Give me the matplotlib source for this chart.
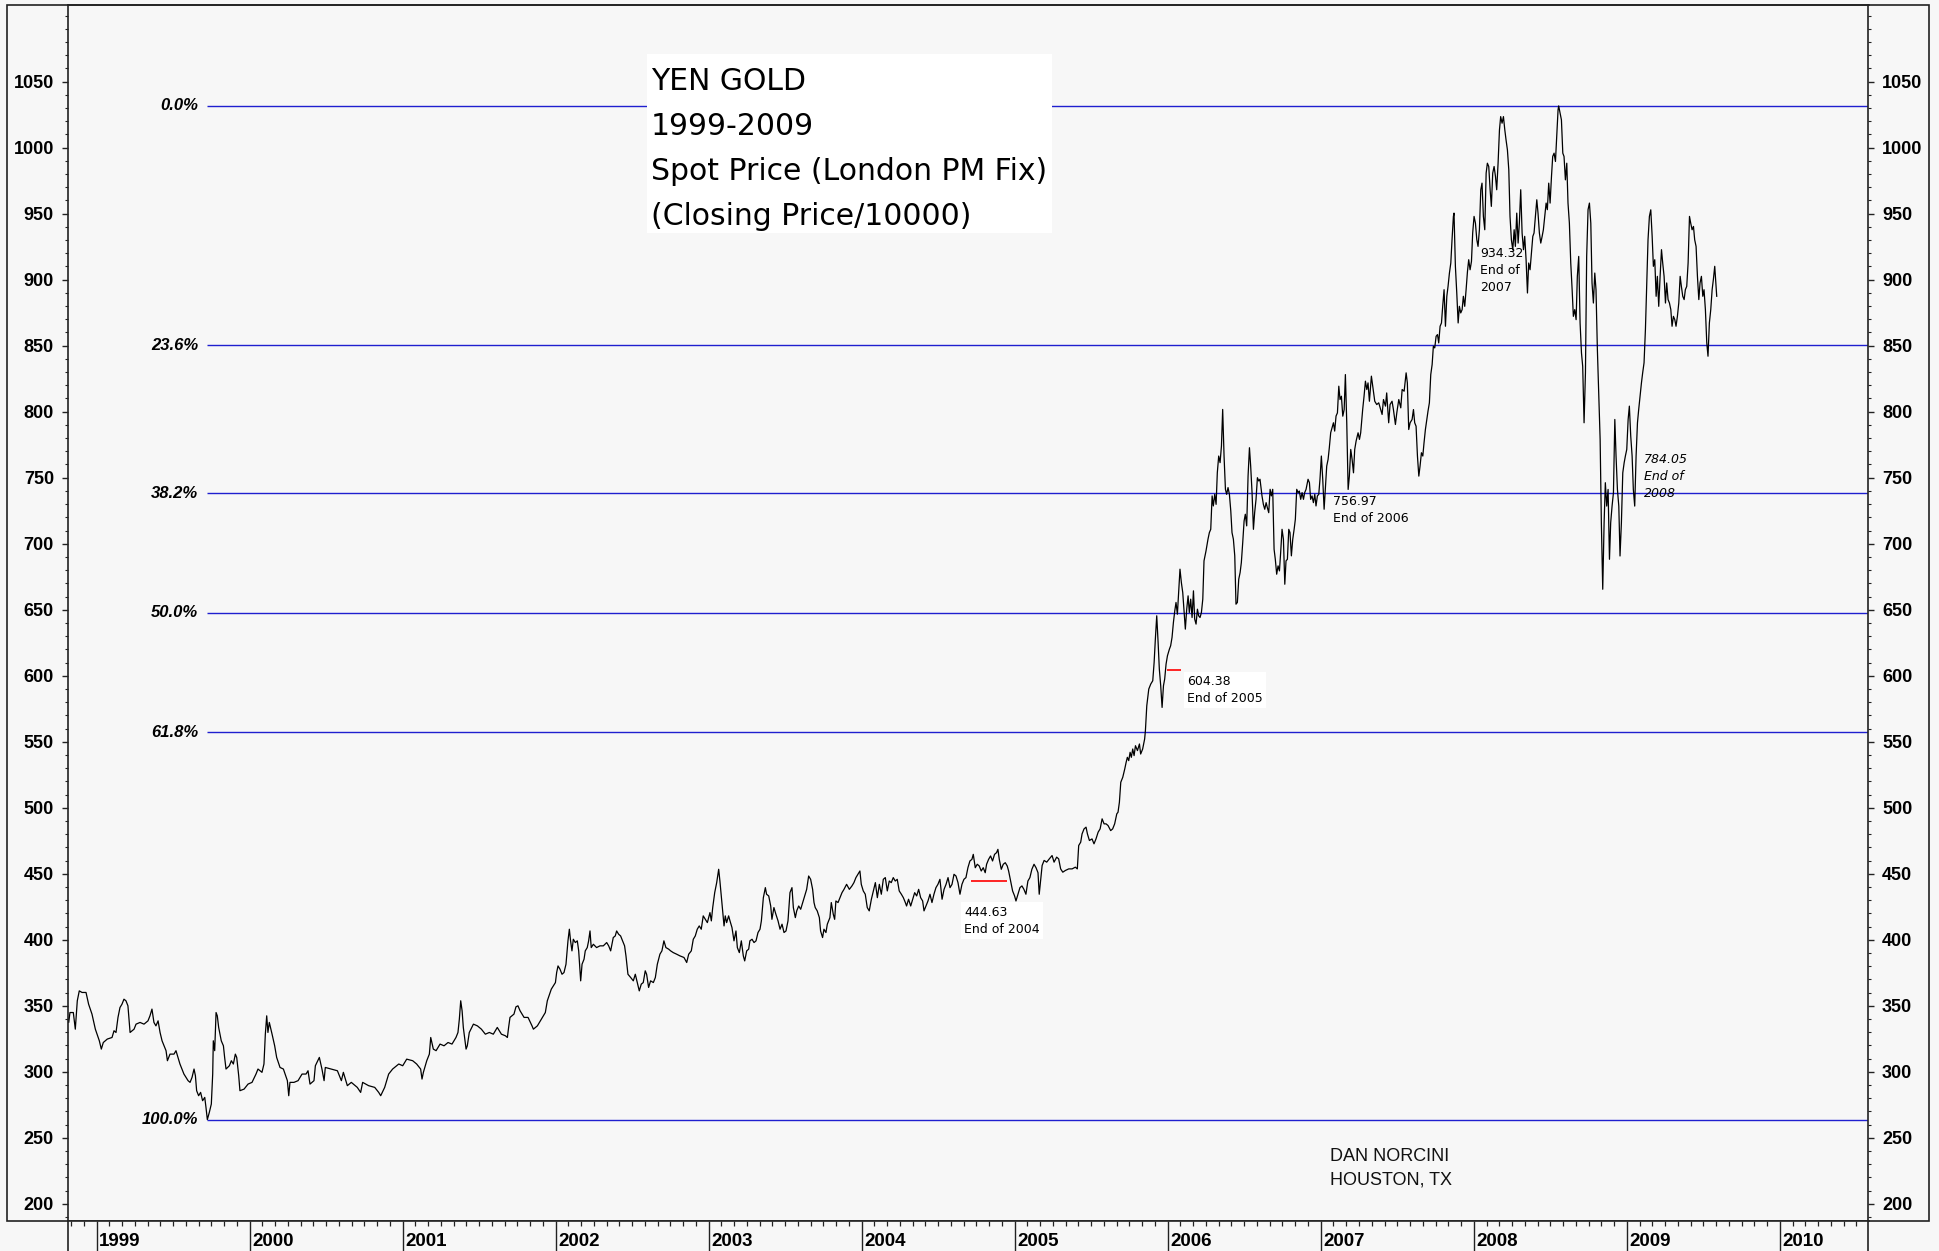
import numpy as np
import matplotlib.pyplot as plt
from matplotlib.patches import Rectangle


# yen gold, closing price / 10000 (decimal years)
years_1999_2001 = [1998.808, 1998.817, 1998.825, 1998.847, 1998.860, 1998.873, 1998.886, 1998.904, 1998.930, 1998.947,
                   1998.969, 1998.991, 1999.017, 1999.030, 1999.043, 1999.069, 1999.100, 1999.113, 1999.126, 1999.139,
                   1999.152, 1999.165, 1999.178, 1999.191, 1999.204, 1999.218, 1999.244, 1999.257, 1999.283, 1999.309,
                   1999.335, 1999.348, 1999.361, 1999.374, 1999.387, 1999.401, 1999.414, 1999.427, 1999.453, 1999.462,
                   1999.479, 1999.505, 1999.518, 1999.544, 1999.570, 1999.597, 1999.610, 1999.623, 1999.636, 1999.645,
                   1999.653, 1999.666, 1999.679, 1999.692, 1999.706, 1999.714, 1999.723, 1999.736, 1999.749, 1999.758,
                   1999.762, 1999.771, 1999.780, 1999.788, 1999.797, 1999.814, 1999.828, 1999.836, 1999.845, 1999.867,
                   1999.880, 1999.893, 1999.906, 1999.915, 1999.928, 1999.936, 1999.963, 1999.989, 2000.015, 2000.041,
                   2000.054, 2000.080, 2000.093, 2000.102, 2000.111, 2000.119, 2000.128, 2000.146, 2000.163, 2000.176,
                   2000.198, 2000.220, 2000.246, 2000.255, 2000.263, 2000.289, 2000.316, 2000.342, 2000.368, 2000.381,
                   2000.394, 2000.420, 2000.429, 2000.455, 2000.472, 2000.486, 2000.494, 2000.533, 2000.573, 2000.599,
                   2000.612, 2000.638, 2000.664, 2000.703, 2000.725, 2000.738, 2000.777, 2000.817, 2000.843, 2000.856,
                   2000.882, 2000.908, 2000.934, 2000.974, 2001.000, 2001.026, 2001.065, 2001.091, 2001.117, 2001.126,
                   2001.135, 2001.157, 2001.174, 2001.183, 2001.200, 2001.218, 2001.244, 2001.270, 2001.296, 2001.322,
                   2001.348, 2001.361, 2001.370, 2001.379, 2001.388, 2001.396, 2001.414, 2001.422, 2001.435, 2001.462,
                   2001.488, 2001.514, 2001.540, 2001.566, 2001.592, 2001.618, 2001.645, 2001.671, 2001.684, 2001.692,
                   2001.701, 2001.727, 2001.740, 2001.753, 2001.767, 2001.793, 2001.819, 2001.845, 2001.854, 2001.880,
                   2001.906, 2001.932, 2001.945, 2001.971, 2001.998, 2002.006, 2002.015]
prices_1999_2001 = [342.4, 337.4, 344.9, 344.9, 332.3, 353.8, 361.3, 360.1, 360.1, 351.2,
                    343.7, 332.3, 323.5, 317.2, 322.2, 324.8, 326.0, 331.1, 329.8, 341.2,
                    348.7, 351.2, 355.0, 353.8, 350.0, 329.8, 332.3, 336.1, 337.4, 336.1,
                    338.6, 342.4, 347.5, 337.4, 334.8, 338.6, 329.8, 323.5, 316.0, 308.4,
                    313.4, 313.4, 316.0, 305.9, 298.3, 293.3, 292.0, 295.8, 302.1, 297.0,
                    285.7, 281.9, 284.4, 278.1, 280.6, 273.1, 263.8, 269.3, 275.6, 298.3,
                    323.5, 316.0, 344.9, 342.4, 333.6, 323.5, 319.7, 310.9, 302.1, 304.6,
                    308.4, 305.9, 313.4, 310.9, 297.0, 285.7, 286.9, 290.7, 292.0, 298.3,
                    302.1, 299.6, 305.9, 328.5, 342.4, 329.8, 337.4, 328.5, 319.7, 310.9,
                    303.3, 302.1, 293.3, 281.9, 292.0, 292.0, 293.3, 298.3, 298.3, 300.8,
                    290.7, 293.3, 304.6, 310.9, 302.1, 293.3, 303.3, 302.1, 300.8, 293.3,
                    299.6, 289.5, 292.0, 288.2, 284.4, 292.0, 289.5, 288.2, 284.4, 281.9,
                    288.2, 298.3, 302.1, 305.9, 304.6, 309.6, 308.4, 305.9, 302.1, 294.5,
                    299.6, 308.4, 313.4, 326.0, 317.2, 316.0, 321.0, 319.7, 322.2, 321.0,
                    326.0, 329.8, 339.9, 353.8, 346.2, 333.6, 317.2, 319.7, 329.8, 336.1,
                    334.8, 332.3, 328.5, 329.8, 328.5, 333.6, 328.5, 327.3, 326.0, 333.6,
                    341.2, 343.7, 349.2, 350.0, 346.2, 341.2, 341.2, 334.8, 332.3, 334.8,
                    339.9, 344.9, 353.8, 362.6, 367.6, 375.2, 380.2]

years_2002_2005 = [2002.028, 2002.041, 2002.054, 2002.067, 2002.080, 2002.089, 2002.097, 2002.106, 2002.115, 2002.128,
                   2002.141, 2002.150, 2002.163, 2002.172, 2002.185, 2002.193, 2002.206, 2002.215, 2002.224, 2002.232,
                   2002.246, 2002.267, 2002.289, 2002.311, 2002.333, 2002.346, 2002.359, 2002.376, 2002.389, 2002.398,
                   2002.411, 2002.424, 2002.437, 2002.450, 2002.459, 2002.472, 2002.490, 2002.507, 2002.520, 2002.533,
                   2002.546, 2002.559, 2002.572, 2002.585, 2002.594, 2002.607, 2002.620, 2002.638, 2002.651, 2002.664,
                   2002.681, 2002.694, 2002.707, 2002.720, 2002.738, 2002.751, 2002.768, 2002.790, 2002.812, 2002.838,
                   2002.856, 2002.869, 2002.886, 2002.899, 2002.912, 2002.925, 2002.938, 2002.951, 2002.964, 2002.978,
                   2002.991, 2003.008, 2003.017, 2003.026, 2003.039, 2003.052, 2003.065, 2003.073, 2003.086, 2003.100,
                   2003.108, 2003.117, 2003.130, 2003.139, 2003.152, 2003.165, 2003.178, 2003.187, 2003.200, 2003.213,
                   2003.226, 2003.235, 2003.248, 2003.261, 2003.269, 2003.283, 2003.296, 2003.309, 2003.322, 2003.335,
                   2003.344, 2003.357, 2003.370, 2003.378, 2003.392, 2003.405, 2003.413, 2003.426, 2003.439, 2003.453,
                   2003.466, 2003.479, 2003.492, 2003.505, 2003.518, 2003.531, 2003.544, 2003.553, 2003.566, 2003.575,
                   2003.588, 2003.601, 2003.614, 2003.627, 2003.640, 2003.653, 2003.666, 2003.679, 2003.688, 2003.696,
                   2003.709, 2003.723, 2003.731, 2003.744, 2003.753, 2003.766, 2003.775, 2003.792, 2003.801, 2003.814,
                   2003.823, 2003.831, 2003.845, 2003.858, 2003.871, 2003.884, 2003.901, 2003.919, 2003.936, 2003.949,
                   2003.962, 2003.975, 2003.988, 2003.997, 2004.010, 2004.023, 2004.036, 2004.049, 2004.063, 2004.076,
                   2004.089, 2004.102, 2004.115, 2004.128, 2004.141, 2004.154, 2004.167, 2004.180, 2004.193, 2004.206,
                   2004.219, 2004.232, 2004.245, 2004.259, 2004.272, 2004.285, 2004.293, 2004.306, 2004.320, 2004.333,
                   2004.346, 2004.359, 2004.372, 2004.385, 2004.398, 2004.407, 2004.420, 2004.433, 2004.446, 2004.459,
                   2004.472, 2004.485, 2004.498, 2004.511, 2004.525, 2004.538, 2004.551, 2004.564, 2004.577, 2004.590,
                   2004.603, 2004.616, 2004.629, 2004.642, 2004.655, 2004.668, 2004.681, 2004.694, 2004.707, 2004.720,
                   2004.729, 2004.742, 2004.755, 2004.768, 2004.781, 2004.794, 2004.807, 2004.816, 2004.829, 2004.842,
                   2004.855, 2004.868, 2004.881, 2004.890, 2004.899, 2004.912, 2004.925, 2004.938, 2004.951, 2004.960,
                   2004.973, 2004.986, 2004.999, 2005.008, 2005.021, 2005.034, 2005.047, 2005.060, 2005.073, 2005.086,
                   2005.099, 2005.112, 2005.126, 2005.139, 2005.152, 2005.160]
prices_2002_2005 = [377.7, 373.9, 375.2, 381.5, 399.2, 408.0, 399.2, 391.6, 400.4, 397.9,
                    399.2, 391.6, 368.9, 381.5, 385.3, 391.6, 394.1, 399.2, 406.7, 394.1,
                    396.6, 394.1, 395.4, 395.4, 397.9, 395.4, 391.6, 401.7, 402.9, 406.7,
                    404.2, 402.9, 399.2, 395.4, 387.8, 373.9, 371.4, 368.9, 373.9, 367.6,
                    361.3, 366.4, 367.6, 376.5, 373.9, 363.9, 368.9, 367.6, 371.4, 381.5,
                    389.1, 391.6, 399.2, 394.1, 392.9, 391.6, 390.3, 389.1, 387.8, 386.6,
                    382.8, 389.1, 391.6, 400.4, 402.9, 408.0, 410.5, 408.0, 418.1, 415.5,
                    413.0, 420.6, 414.3, 424.4, 435.7, 443.3, 453.4, 444.5, 428.2, 410.5,
                    418.1, 413.0, 418.1, 414.3, 409.2, 399.2, 406.7, 394.1, 390.3, 399.2,
                    387.8, 384.0, 391.6, 392.9, 399.2, 400.4, 397.9, 399.2, 405.5, 408.0,
                    414.3, 431.9, 439.5, 434.5, 433.2, 425.6, 415.5, 424.4, 419.3, 414.3,
                    408.0, 411.8, 405.5, 406.7, 414.3, 435.7, 439.5, 424.4, 416.8, 421.9,
                    425.6, 423.1, 428.2, 433.2, 438.2, 448.3, 445.8, 438.2, 428.2, 424.4,
                    421.9, 416.8, 406.7, 401.7, 408.0, 405.5, 411.8, 416.8, 428.2, 419.3,
                    415.5, 429.4, 428.2, 431.9, 435.7, 438.2, 442.0, 438.2, 440.8, 443.3,
                    447.1, 449.6, 452.1, 442.0, 437.0, 434.5, 424.4, 421.9, 430.7, 437.0,
                    443.3, 431.9, 442.0, 434.5, 445.8, 447.1, 437.0, 444.5, 443.3, 447.1,
                    444.5, 445.8, 437.0, 434.5, 431.9, 428.2, 425.6, 430.7, 425.6, 430.7,
                    435.7, 433.2, 438.2, 431.9, 429.4, 421.9, 425.6, 429.4, 434.5, 428.2,
                    434.5, 439.5, 442.0, 445.8, 430.7, 438.2, 442.0, 447.1, 439.5, 442.0,
                    449.6, 448.3, 443.3, 434.5, 442.0, 445.8, 447.1, 454.6, 459.7, 460.9,
                    464.7, 454.6, 457.2, 455.9, 452.1, 454.6, 450.8, 457.2, 460.9, 463.5,
                    459.7, 464.7, 466.0, 468.5, 460.9, 453.4, 457.2, 458.4, 455.9, 452.1,
                    444.5, 437.0, 433.2, 429.4, 434.5, 439.5, 440.8, 438.2, 434.5, 444.5,
                    447.1, 453.4, 457.2, 454.6, 450.8, 434.5]

years_2005_2007 = [2005.179, 2005.192, 2005.209, 2005.226, 2005.244, 2005.257, 2005.274, 2005.287, 2005.300, 2005.314,
                   2005.331, 2005.353, 2005.375, 2005.396, 2005.409, 2005.418, 2005.431, 2005.440, 2005.453, 2005.466,
                   2005.475, 2005.488, 2005.505, 2005.518, 2005.531, 2005.545, 2005.558, 2005.571, 2005.584, 2005.597,
                   2005.610, 2005.627, 2005.640, 2005.653, 2005.667, 2005.675, 2005.684, 2005.693, 2005.706, 2005.719,
                   2005.728, 2005.736, 2005.745, 2005.754, 2005.762, 2005.771, 2005.780, 2005.789, 2005.802, 2005.815,
                   2005.823, 2005.836, 2005.849, 2005.854, 2005.863, 2005.876, 2005.889, 2005.902, 2005.911, 2005.919,
                   2005.928, 2005.937, 2005.945, 2005.954, 2005.963, 2005.972, 2005.980, 2005.989, 2005.998, 2006.011,
                   2006.019, 2006.028, 2006.037, 2006.046, 2006.054, 2006.063, 2006.072, 2006.080, 2006.089, 2006.098,
                   2006.107, 2006.115, 2006.124, 2006.133, 2006.141, 2006.150, 2006.159, 2006.168, 2006.176, 2006.185,
                   2006.194, 2006.202, 2006.211, 2006.220, 2006.229, 2006.237, 2006.250, 2006.263, 2006.272, 2006.281,
                   2006.290, 2006.298, 2006.307, 2006.316, 2006.324, 2006.333, 2006.342, 2006.351, 2006.359, 2006.368,
                   2006.377, 2006.385, 2006.394, 2006.403, 2006.412, 2006.420, 2006.429, 2006.438, 2006.446, 2006.455,
                   2006.464, 2006.473, 2006.481, 2006.490, 2006.499, 2006.507, 2006.516, 2006.525, 2006.534, 2006.542,
                   2006.551, 2006.560, 2006.568, 2006.577, 2006.586, 2006.595, 2006.603, 2006.616, 2006.625, 2006.634,
                   2006.643, 2006.651, 2006.660, 2006.669, 2006.677, 2006.686, 2006.695, 2006.703, 2006.712, 2006.721,
                   2006.730, 2006.738, 2006.747, 2006.756, 2006.765, 2006.773, 2006.782, 2006.791, 2006.799, 2006.808,
                   2006.817, 2006.826, 2006.834, 2006.843, 2006.852, 2006.860, 2006.869, 2006.878, 2006.887, 2006.895,
                   2006.904, 2006.917, 2006.926, 2006.934, 2006.943, 2006.952, 2006.961, 2006.969, 2006.978, 2006.987,
                   2006.995, 2007.004, 2007.013, 2007.022, 2007.030, 2007.039, 2007.048, 2007.056, 2007.065, 2007.074,
                   2007.083, 2007.091, 2007.100]
prices_2005_2007 = [456.3, 460.1, 458.8, 461.3, 463.8, 458.8, 462.6, 461.3, 453.7, 451.2,
                    452.5, 453.7, 453.7, 455.0, 453.7, 471.4, 473.9, 480.2, 484.0, 485.3,
                    480.2, 475.2, 476.4, 472.7, 476.4, 481.5, 484.0, 491.6, 487.8, 487.8,
                    486.5, 482.7, 484.0, 487.8, 495.4, 496.6, 504.2, 519.3, 523.1, 529.4,
                    534.4, 538.2, 535.7, 542.0, 538.2, 544.5, 539.5, 547.0, 543.3, 548.3,
                    540.7, 544.5, 552.1, 558.4, 577.3, 589.9, 593.7, 596.2, 610.1, 627.7,
                    645.4, 625.2, 605.0, 592.4, 576.0, 592.4, 597.5, 608.8, 615.1, 620.2,
                    622.7, 629.0, 640.3, 649.2, 655.5, 646.6, 664.3, 680.7, 670.6, 663.0,
                    647.9, 635.3, 650.4, 660.5, 647.9, 658.0, 644.1, 664.3, 642.9, 639.1,
                    650.4, 645.4, 644.1, 647.9, 658.0, 687.0, 694.5, 703.4, 708.4, 710.9,
                    736.2, 728.6, 737.4, 729.8, 753.8, 766.4, 761.4, 774.0, 801.7, 766.4,
                    741.2, 737.4, 742.5, 737.4, 724.8, 708.4, 703.4, 690.8, 654.2, 655.5,
                    673.1, 678.2, 685.7, 700.8, 717.2, 722.3, 713.5, 751.3, 772.7, 758.8,
                    738.7, 710.9, 723.5, 733.6, 750.0, 747.5, 748.8, 736.2, 729.8, 726.1,
                    731.1, 727.3, 723.5, 741.2, 736.2, 741.2, 695.8, 688.2, 676.9, 683.2,
                    679.4, 693.3, 710.9, 703.4, 669.3, 687.0, 688.2, 710.9, 708.4, 690.8,
                    703.4, 710.9, 718.5, 741.2, 738.7, 739.9, 733.6, 738.7, 733.6, 738.7,
                    741.2, 748.8, 746.2, 733.6, 736.2, 731.1, 737.4, 728.6, 736.2, 737.4,
                    748.8, 766.4, 748.8, 726.1, 741.2, 758.8, 763.9, 772.7, 784.1, 787.8,
                    791.6, 785.3, 796.7]

years_2007_2009 = [2007.109, 2007.118, 2007.126, 2007.135, 2007.144, 2007.153, 2007.161, 2007.170, 2007.179, 2007.187,
                   2007.196, 2007.205, 2007.214, 2007.222, 2007.231, 2007.244, 2007.253, 2007.261, 2007.274, 2007.283,
                   2007.292, 2007.301, 2007.309, 2007.318, 2007.331, 2007.340, 2007.353, 2007.366, 2007.379, 2007.392,
                   2007.401, 2007.410, 2007.423, 2007.431, 2007.444, 2007.453, 2007.466, 2007.475, 2007.488, 2007.497,
                   2007.510, 2007.523, 2007.532, 2007.545, 2007.558, 2007.566, 2007.575, 2007.584, 2007.597, 2007.606,
                   2007.614, 2007.623, 2007.632, 2007.641, 2007.649, 2007.658, 2007.667, 2007.675, 2007.684, 2007.693,
                   2007.701, 2007.710, 2007.719, 2007.728, 2007.736, 2007.745, 2007.754, 2007.763, 2007.771, 2007.780,
                   2007.789, 2007.797, 2007.806, 2007.815, 2007.824, 2007.832, 2007.841, 2007.850, 2007.858, 2007.867,
                   2007.871, 2007.880, 2007.889, 2007.898, 2007.906, 2007.915, 2007.924, 2007.932, 2007.941, 2007.950,
                   2007.959, 2007.967, 2007.976, 2007.985, 2007.993, 2008.002, 2008.011, 2008.020, 2008.028, 2008.037,
                   2008.046, 2008.054, 2008.063, 2008.072, 2008.081, 2008.089, 2008.098, 2008.107, 2008.115, 2008.124,
                   2008.133, 2008.142, 2008.150, 2008.159, 2008.168, 2008.176, 2008.185, 2008.194, 2008.203, 2008.211,
                   2008.220, 2008.229, 2008.237, 2008.246, 2008.255, 2008.264, 2008.272, 2008.281, 2008.290, 2008.298,
                   2008.307, 2008.316, 2008.325, 2008.333, 2008.342, 2008.351, 2008.359, 2008.368, 2008.377, 2008.386,
                   2008.394, 2008.403, 2008.412, 2008.420, 2008.429, 2008.438, 2008.447, 2008.455, 2008.464, 2008.473,
                   2008.481, 2008.490, 2008.499, 2008.508, 2008.516, 2008.525, 2008.534, 2008.542, 2008.551, 2008.555,
                   2008.564, 2008.573, 2008.582, 2008.590, 2008.599, 2008.608, 2008.616, 2008.625, 2008.634, 2008.643,
                   2008.651, 2008.660, 2008.669, 2008.677, 2008.686, 2008.695, 2008.704, 2008.712, 2008.721, 2008.730,
                   2008.738, 2008.747, 2008.756, 2008.765, 2008.773, 2008.782, 2008.791, 2008.799, 2008.808, 2008.817,
                   2008.826, 2008.834, 2008.843, 2008.852, 2008.860, 2008.869, 2008.878, 2008.887, 2008.895, 2008.904,
                   2008.913, 2008.922, 2008.930, 2008.939, 2008.948, 2008.956, 2008.965, 2008.974, 2008.983, 2008.991,
                   2009.000, 2009.009, 2009.017, 2009.026, 2009.035, 2009.043, 2009.052, 2009.061, 2009.070, 2009.078,
                   2009.087, 2009.096, 2009.104, 2009.113, 2009.122, 2009.131, 2009.139, 2009.148, 2009.157, 2009.166,
                   2009.174, 2009.183, 2009.192, 2009.200, 2009.209, 2009.218, 2009.227, 2009.235, 2009.244, 2009.253,
                   2009.261, 2009.270, 2009.279, 2009.288, 2009.296, 2009.305, 2009.314, 2009.322, 2009.331, 2009.340,
                   2009.349, 2009.357, 2009.366, 2009.375, 2009.383, 2009.392, 2009.401, 2009.410, 2009.418, 2009.427,
                   2009.436, 2009.444, 2009.453, 2009.462, 2009.471, 2009.479, 2009.488, 2009.497, 2009.505, 2009.514,
                   2009.523, 2009.531, 2009.540, 2009.549, 2009.558, 2009.566, 2009.575, 2009.584, 2009.588]
prices_2007_2009 = [799.1, 819.3, 809.2, 811.7, 796.6, 801.6, 828.1, 791.6, 741.1, 751.2,
                    771.4, 763.8, 753.7, 771.4, 777.7, 784.0, 779.0, 784.0, 801.6, 811.7,
                    823.1, 816.8, 821.8, 807.9, 826.9, 819.3, 807.9, 805.4, 806.7, 801.6,
                    797.9, 809.2, 804.2, 814.2, 791.6, 805.4, 807.9, 801.6, 790.3, 799.1,
                    809.2, 802.9, 816.8, 815.5, 829.4, 821.8, 786.5, 791.6, 794.1, 801.6,
                    791.6, 789.0, 766.4, 751.2, 758.8, 768.9, 766.4, 776.4, 786.5, 794.1,
                    800.4, 806.7, 828.1, 835.7, 849.5, 848.3, 857.1, 858.4, 852.1, 864.7,
                    867.2, 879.8, 892.4, 864.7, 887.4, 894.9, 905.0, 912.6, 930.2, 947.9,
                    950.4, 910.1, 889.9, 867.2, 879.8, 874.8, 877.3, 887.4, 879.8, 892.4,
                    906.3, 915.1, 907.5, 913.8, 935.3, 947.9, 942.8, 930.2, 925.2, 937.8,
                    968.1, 973.1, 947.9, 937.8, 980.7, 988.2, 985.7, 968.1, 955.5, 980.7,
                    985.7, 978.1, 968.1, 988.2, 1013.4, 1023.5, 1018.5, 1023.5, 1013.4, 1005.9,
                    998.3, 983.2, 947.9, 930.2, 922.7, 937.8, 925.2, 950.4, 927.7, 942.8,
                    968.1, 935.3, 922.7, 932.8, 915.1, 889.9, 912.6, 907.5, 920.1, 932.8,
                    935.3, 947.9, 960.5, 950.4, 935.3, 927.7, 932.8, 937.8, 947.9, 958.0,
                    953.0, 973.1, 958.0, 978.1, 993.3, 995.8, 989.5, 1008.4, 1028.6, 1031.6,
                    1026.1, 1021.0, 995.8, 993.3, 975.6, 988.2, 958.0, 942.8, 912.6, 892.4,
                    872.2, 877.3, 869.7, 902.5, 917.6, 867.2, 844.5, 834.4, 791.6, 829.4,
                    917.6, 953.0, 958.0, 942.8, 897.5, 882.3, 905.0, 892.4, 847.0, 811.7,
                    779.0, 715.9, 665.5, 715.9, 746.2, 728.5, 741.1, 688.2, 715.9, 728.5,
                    738.6, 794.1, 766.4, 741.1, 728.5, 690.7, 715.9, 753.7, 761.3, 766.4,
                    771.4, 794.1, 804.2, 781.5, 766.4, 741.1, 728.5, 766.4, 791.6, 801.6,
                    811.7, 821.8, 829.4, 837.0, 862.2, 897.5, 930.2, 947.9, 952.9, 932.8,
                    910.1, 915.1, 887.4, 902.5, 879.8, 902.5, 922.7, 912.6, 902.5, 882.3,
                    897.5, 884.9, 882.3, 877.3, 864.7, 872.2, 869.7, 864.7, 872.2, 882.3,
                    902.5, 894.9, 887.4, 884.9, 892.4, 894.9, 912.6, 947.9, 942.8, 937.8,
                    940.3, 930.2, 925.2, 902.5, 884.9, 897.5, 902.5, 887.4, 892.4, 877.3,
                    852.1, 842.0, 867.2, 877.3, 892.4, 900.0, 910.1, 894.9, 887.4]

# fibonacci retracement ratios and the year-end closes written on the chart
fib_ratios = [0.0, 0.236, 0.382, 0.5, 0.618, 1.0]
end_years = [2004, 2005, 2006, 2007, 2008]
end_values = [444.63, 604.38, 756.97, 934.32, 784.05]
axis_years = list(range(1999, 2011))

title_lines = ["YEN GOLD", "1999-2009", "Spot Price (London PM Fix)", "(Closing Price/10000)"]

BG = '#f7f7f7'
FIB_BLUE = '#1f1fcf'
AXIS_COL = '#222222'
TICK_FONT = 'Liberation Sans'
NOTE_FONT = 'DejaVu Sans'

W_PX, H_PX = 1940, 1251
X_MIN, X_MAX = 1998.809, 2010.580
Y_MIN, Y_MAX = 187.0, 1107.8

years = np.concatenate([years_1999_2001, years_2002_2005, years_2005_2007, years_2007_2009])
prices = np.concatenate([prices_1999_2001, prices_2002_2005, prices_2005_2007, prices_2007_2009])

fig = plt.figure(figsize=(W_PX / 100, H_PX / 100), dpi=100)
fig.patch.set_facecolor(BG)

# plot area in pixels: x 67.5..1868.5, y 5.3..1221
left, right, top, bottom = 67.5 / W_PX, 1868.5 / W_PX, 1 - 5.3 / H_PX, 1 - 1221 / H_PX
ax = fig.add_axes([left, bottom, right - left, top - bottom])
ax.set_facecolor(BG)
ax.set_xlim(X_MIN, X_MAX)
ax.set_ylim(Y_MIN, Y_MAX)

ax.plot(years, prices, color='black', lw=0.9, zorder=2)

# fibonacci retracement from the 1999 low to the 2008 high
lo_i, hi_i = np.argmin(prices), np.argmax(prices)
lo, hi = prices[lo_i], prices[hi_i]
fib_start = years[lo_i]
for r in fib_ratios:
    level = hi - r * (hi - lo)
    ax.hlines(level, fib_start, X_MAX, color=FIB_BLUE, lw=1.0, zorder=1)
    ax.text(fib_start - 0.06, level, f"{r * 100:.1f}%", ha='right', va='center',
            fontsize=12, fontstyle='italic', fontweight='bold', family=TICK_FONT)

# y axes on both sides
ax.set_yticks(np.arange(200, 1051, 50))
ax.set_yticks(np.arange(190, 1101, 10), minor=True)
ax.tick_params(axis='y', which='major', direction='out', length=4.3, width=1, pad=5.5,
               left=True, right=True, labelleft=True, labelright=True, labelsize=13, colors=AXIS_COL)
ax.tick_params(axis='y', which='minor', direction='out', length=2.2, width=0.8, left=True, right=True,
               colors=AXIS_COL)
for lab in ax.get_yticklabels():
    lab.set_fontweight('bold')
    lab.set_family(TICK_FONT)
    lab.set_color('black')
ax.set_xticks([])
for sp in ax.spines.values():
    sp.set_color(AXIS_COL)
    sp.set_linewidth(1.2)

# title box
box_x0, box_y0 = 646.7 / W_PX, 1 - 232.7 / H_PX
ax.add_patch(Rectangle((box_x0, box_y0), 405 / W_PX, 178.7 / H_PX, transform=fig.transFigure,
                       facecolor='white', edgecolor='none', zorder=3))
for i, line in enumerate(title_lines):
    ax.text(650.7 / W_PX, 1 - (90 + 45 * i) / H_PX, line, transform=fig.transFigure,
            fontsize=21.5, family=NOTE_FONT, va='baseline', ha='left', zorder=4)

# year-end marks and notes
red_spans = {2004: (2004.714, 2004.951), 2005: (2005.998, 2006.085)}
note_pos = {2004: (2004.669, 425.9), 2005: (2006.124, 600.5), 2006: (2007.078, 736.6),
            2007: (2008.041, 924.7), 2008: (2009.113, 768.4)}
for yr, val in zip(end_years, end_values):
    if yr in red_spans:
        ax.hlines(val, *red_spans[yr], color='red', lw=1.2, zorder=3)
    if yr in (2004, 2005, 2006):
        txt = f"{val:.2f}\nEnd of {yr}"
    else:
        txt = f"{val:.2f}\nEnd of\n{yr}"
    kw = dict(fontsize=9, family=NOTE_FONT, ha='left', va='top', linespacing=1.4, zorder=4)
    if yr in (2004, 2005):
        kw['bbox'] = dict(boxstyle='square,pad=0.25', facecolor='white', edgecolor='none')
    if yr == 2008:
        kw['fontstyle'] = 'italic'
    ax.text(*note_pos[yr], txt, **kw)

ax.text(2007.061, 242.5, "DAN NORCINI\nHOUSTON, TX", fontsize=13, family=TICK_FONT,
        ha='left', va='top', linespacing=1.5, color='#111111')

# date strip under the chart
strip = fig.add_axes([left, 0, right - left, bottom])
strip.set_facecolor(BG)
strip.set_xlim(X_MIN, X_MAX)
strip.set_ylim(0, 1)
strip.set_xticks([])
strip.set_yticks([])
strip.spines['bottom'].set_visible(False)
strip.spines['top'].set_visible(False)
for s in ('left', 'right'):
    strip.spines[s].set_color(AXIS_COL)
    strip.spines[s].set_linewidth(1.2)
months = [y + m / 12 for y in range(1998, 2011) for m in range(1, 12)]
months = [m for m in months if X_MIN < m < X_MAX]
strip.vlines(months, 1 - 4.5 / 30, 1, color=AXIS_COL, lw=0.9)
strip.vlines(axis_years, 0, 1, color=AXIS_COL, lw=1.0)
for yr in axis_years:
    strip.text(yr + 0.016, 0.17, str(yr), fontsize=13.5, fontweight='bold', family=TICK_FONT,
               ha='left', va='baseline')

# outer frame
fig.add_artist(Rectangle((7 / W_PX, bottom), 1922 / W_PX, top - bottom, transform=fig.transFigure,
                         fill=False, edgecolor=AXIS_COL, lw=1.2))

fig.savefig('out.png', dpi=100, facecolor=BG)
